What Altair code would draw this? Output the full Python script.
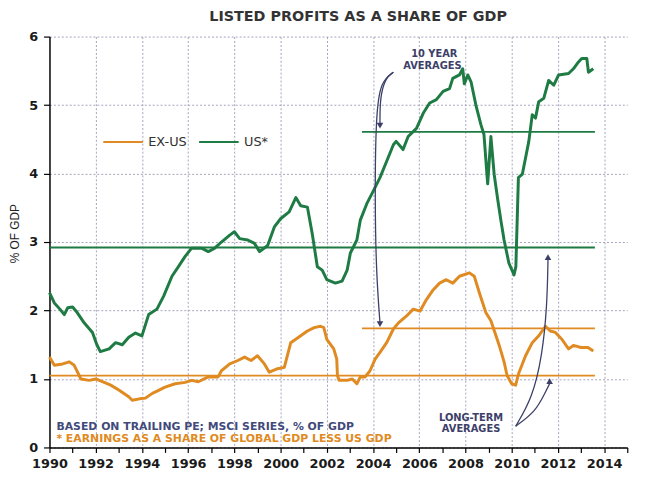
import altair as alt
import pandas as pd

# ---------------- data ----------------
us_year = [1990.0, 1990.21, 1990.45, 1990.64, 1990.79, 1991.0, 1991.2, 1991.5, 1991.86, 1992.05,
           1992.2, 1992.58, 1992.86, 1993.15, 1993.43, 1993.72, 1994.0, 1994.29, 1994.65, 1994.94,
           1995.3, 1995.58, 1995.87, 1996.15, 1996.58, 1996.87, 1997.15, 1997.44, 1997.8, 1998.0,
           1998.23, 1998.58, 1998.87, 1999.09, 1999.44, 1999.73, 2000.0, 2000.37, 2000.66, 2000.87,
           2001.16, 2001.37, 2001.59, 2001.8, 2002.0, 2002.37, 2002.66, 2002.88, 2003.02, 2003.3,
           2003.45, 2003.73, 2004.02, 2004.3, 2004.59, 2004.88, 2005.0, 2005.3, 2005.52, 2005.88,
           2006.17, 2006.45, 2006.74, 2007.03, 2007.31, 2007.45, 2007.74, 2007.88, 2007.95, 2008.1,
           2008.24, 2008.45, 2008.67, 2008.8, 2008.96, 2009.1, 2009.24, 2009.4, 2009.53, 2009.67,
           2009.88, 2010.1, 2010.18, 2010.29, 2010.46, 2010.74, 2010.89, 2011.03, 2011.17, 2011.39,
           2011.6, 2011.82, 2012.03, 2012.46, 2012.67, 2012.89, 2013.03, 2013.25, 2013.32, 2013.53]
us_val = [2.26, 2.11, 2.02, 1.94, 2.04, 2.05, 1.97, 1.82, 1.68, 1.50,
          1.40, 1.44, 1.53, 1.50, 1.61, 1.67, 1.63, 1.94, 2.02, 2.21,
          2.50, 2.64, 2.79, 2.91, 2.91, 2.86, 2.91, 3.00, 3.10, 3.15,
          3.05, 3.03, 2.98, 2.86, 2.95, 3.22, 3.34, 3.44, 3.65, 3.53,
          3.51, 3.12, 2.64, 2.59, 2.45, 2.40, 2.43, 2.59, 2.84, 3.03,
          3.32, 3.56, 3.75, 3.94, 4.18, 4.42, 4.47, 4.35, 4.54, 4.66,
          4.88, 5.03, 5.08, 5.20, 5.24, 5.39, 5.44, 5.53, 5.31, 5.44,
          5.34, 5.00, 4.71, 4.57, 3.85, 4.54, 3.99, 3.61, 3.32, 3.03,
          2.69, 2.52, 2.64, 3.94, 3.99, 4.47, 4.86, 4.81, 5.05, 5.10,
          5.36, 5.29, 5.44, 5.46, 5.53, 5.63, 5.68, 5.68, 5.48, 5.53]

exus_year = [1990.0, 1990.21, 1990.57, 1990.86, 1991.07, 1991.36, 1991.72, 1992.0, 1992.29, 1992.65,
             1993.0, 1993.43, 1993.58, 1993.9, 1994.15, 1994.45, 1994.7, 1995.0, 1995.44, 1995.87,
             1996.15, 1996.44, 1996.87, 1997.3, 1997.44, 1997.8, 1998.15, 1998.44, 1998.72, 1999.0,
             1999.3, 1999.51, 1999.87, 2000.16, 2000.44, 2000.87, 2001.16, 2001.45, 2001.73, 2001.87,
             2002.0, 2002.3, 2002.43, 2002.46, 2002.53, 2002.88, 2003.1, 2003.3, 2003.45, 2003.66,
             2003.87, 2004.09, 2004.3, 2004.59, 2004.88, 2005.1, 2005.45, 2005.74, 2006.03, 2006.31,
             2006.6, 2006.88, 2007.17, 2007.45, 2007.74, 2008.17, 2008.38, 2008.6, 2008.88, 2009.1,
             2009.32, 2009.46, 2009.67, 2009.8, 2010.0, 2010.17, 2010.3, 2010.6, 2010.89, 2011.17,
             2011.46, 2011.67, 2011.89, 2012.17, 2012.46, 2012.67, 2013.0, 2013.3, 2013.53]
exus_val = [1.32, 1.20, 1.22, 1.25, 1.20, 1.00, 0.98, 1.00, 0.96, 0.91,
            0.84, 0.74, 0.69, 0.71, 0.72, 0.79, 0.83, 0.88, 0.93, 0.95,
            0.98, 0.96, 1.03, 1.03, 1.12, 1.22, 1.27, 1.32, 1.27, 1.34,
            1.22, 1.10, 1.15, 1.17, 1.53, 1.63, 1.70, 1.75, 1.77, 1.75,
            1.58, 1.44, 1.29, 1.05, 0.98, 0.98, 1.00, 0.93, 1.03, 1.03,
            1.12, 1.29, 1.39, 1.53, 1.73, 1.82, 1.92, 2.02, 1.99, 2.16,
            2.30, 2.40, 2.45, 2.40, 2.50, 2.55, 2.50, 2.26, 1.97, 1.85,
            1.63, 1.49, 1.25, 1.05, 0.93, 0.91, 1.08, 1.34, 1.53, 1.63,
            1.77, 1.70, 1.68, 1.58, 1.44, 1.49, 1.46, 1.46, 1.41]

series_names = ["EX-US", "US*"]
long_term_avg = [1.05, 2.92]      # EX-US, US*
ten_year_avg = [1.74, 4.61]       # EX-US, US*
long_term_span = [1990.0, 2013.6]
ten_year_span = [2003.52, 2013.6]

tick_years = list(range(1990, 2016))
y_ticks = [0, 1, 2, 3, 4, 5, 6]

title_text = "LISTED PROFITS AS A SHARE OF GDP"
y_title = "% OF GDP"
note_lines = ["BASED ON TRAILING  PE; MSCI SERIES,  % OF GDP",
              "* EARNINGS  AS A SHARE OF  GLOBAL  GDP LESS US GDP"]

# annotation arrows (data coordinates)
arrow_id = ["a1"] * 5 + ["a2"] * 6 + ["b1"] * 5 + ["b2"] * 4
arrow_seq = [0, 1, 2, 3, 4] + [0, 1, 2, 3, 4, 5] + [0, 1, 2, 3, 4] + [0, 1, 2, 3]
arrow_x = [2004.88, 2004.55, 2004.33, 2004.30, 2004.30,
           2004.88, 2004.35, 2004.12, 2004.08, 2004.15, 2004.30,
           2010.17, 2010.89, 2011.32, 2011.53, 2011.57,
           2010.17, 2011.03, 2011.46, 2011.64]
arrow_y = [5.48, 5.40, 5.15, 4.90, 4.72,
           5.48, 5.35, 4.90, 3.50, 2.50, 1.82,
           0.31, 0.72, 1.34, 2.06, 2.74,
           0.31, 0.52, 0.81, 0.93]
head_x = [2004.30, 2004.30, 2011.57, 2011.64]
head_y = [4.70, 1.80, 2.78, 0.97]
head_shape = ["triangle-down", "triangle-down", "triangle-up", "triangle-up"]

ann_text = ["10 YEAR", "AVERAGES", "LONG-TERM", "AVERAGES"]
ann_x = [2006.65, 2006.57, 2008.24, 2008.24]
ann_y = [5.74, 5.575, 0.433, 0.274]
note_x = [1990.3, 1990.3]
note_y = [0.305, 0.13]

# ---------------- styles ----------------
GREEN = "#1d7b43"
ORANGE = "#e08a22"
NAVY = "#3c4068"
GRID = "#a4a4bc"
FONT = "DejaVu Sans"

# ---------------- tables ----------------
series_df = pd.concat([
    pd.DataFrame({"year": exus_year, "value": exus_val, "series": series_names[0]}),
    pd.DataFrame({"year": us_year, "value": us_val, "series": series_names[1]}),
])
avg_df = pd.DataFrame({
    "series": series_names * 2,
    "value": long_term_avg + ten_year_avg,
    "x0": [long_term_span[0]] * 2 + [ten_year_span[0]] * 2,
    "x1": [long_term_span[1]] * 2 + [ten_year_span[1]] * 2,
})
arrow_df = pd.DataFrame({"arrow": arrow_id, "seq": arrow_seq, "x": arrow_x, "y": arrow_y})
head_df = pd.DataFrame({"x": head_x, "y": head_y, "shape": head_shape})
ann_df = pd.DataFrame({"text": ann_text, "x": ann_x, "y": ann_y})
note_df = pd.DataFrame({"text": note_lines, "x": note_x, "y": note_y, "line": [0, 1]})

xscale = alt.Scale(domain=[1990, 2015], nice=False, zero=False)
yscale = alt.Scale(domain=[0, 6], nice=False)

xaxis = alt.Axis(values=tick_years, format="d", title=None,
                 labelExpr="datum.value % 2 == 0 ? datum.label : ''",
                 grid=True, gridColor=GRID, gridDash=[2, 2], gridWidth=1,
                 gridOpacity={"condition": {"test": "datum.value % 2 == 0 && datum.value > 1990",
                                            "value": 1}, "value": 0},
                 domainColor="#000", domainWidth=1.5,
                 tickColor="#000", tickSize=5, tickWidth=1.2,
                 labelFont=FONT, labelFontSize=13, labelFontWeight="bold",
                 labelColor="#1a1a1a", labelPadding=5, labelFlush=False)
yaxis = alt.Axis(values=y_ticks, format="d", title=y_title,
                 grid=True, gridColor=GRID, gridDash=[2, 2], gridWidth=1,
                 domainColor="#000", domainWidth=1.5,
                 tickColor="#000", tickSize=6, tickWidth=1.2,
                 labelFont=FONT, labelFontSize=13, labelFontWeight="bold",
                 labelColor="#1a1a1a", labelPadding=6,
                 titleFont="Liberation Sans", titleFontSize=12,
                 titleFontWeight="normal", titleColor="#222",
                 titleX=-35, titleY=199, titleAlign="center",
                 titleBaseline="middle", titleAngle=-90)


def X(f):
    return alt.X(f, type="quantitative", scale=xscale, axis=xaxis)


def Y(f):
    return alt.Y(f, type="quantitative", scale=yscale, axis=yaxis)


lines = alt.Chart(series_df).mark_line(strokeWidth=3, strokeJoin="round").encode(
    x=X("year"),
    y=Y("value"),
    color=alt.Color("series:N", scale=alt.Scale(domain=series_names, range=[ORANGE, GREEN]),
                    legend=alt.Legend(title=None, orient="none", direction="horizontal",
                                      legendX=53, legendY=85, padding=0,
                                      symbolType="stroke", symbolSize=1600,
                                      symbolStrokeWidth=2.2, labelOffset=4,
                                      columnPadding=8, labelFont=FONT,
                                      labelFontSize=13, labelColor="#333")),
    detail="series:N",
)

avg_layers = []
for name, col in zip(series_names, [ORANGE, GREEN]):
    avg_layers.append(
        alt.Chart(avg_df).transform_filter(alt.datum.series == name)
        .mark_rule(color=col, strokeWidth=1.8)
        .encode(x=X("x0"), x2="x1", y=Y("value"))
    )

arrows = alt.Chart(arrow_df).mark_line(interpolate="basis", color=NAVY, strokeWidth=1.3).encode(
    x=X("x"), y=Y("y"), detail="arrow:N", order="seq:Q")

heads = alt.Chart(head_df).mark_point(filled=True, size=45, color=NAVY, opacity=1).encode(
    x=X("x"), y=Y("y"), shape=alt.Shape("shape:N", scale=None))

ann = alt.Chart(ann_df).mark_text(font=FONT, fontSize=10, fontWeight="bold", color=NAVY,
                                  align="center", baseline="middle").encode(
    x=X("x"), y=Y("y"), text="text:N")

note1 = alt.Chart(note_df).transform_filter(alt.datum.line == 0).mark_text(
    font=FONT, fontSize=11, fontWeight="bold", color="#414a7a",
    align="left", baseline="middle").encode(x=X("x"), y=Y("y"), text="text:N")
note2 = alt.Chart(note_df).transform_filter(alt.datum.line == 1).mark_text(
    font=FONT, fontSize=11, fontWeight="bold", color=ORANGE,
    align="left", baseline="middle").encode(x=X("x"), y=Y("y"), text="text:N")

chart = alt.layer(lines, *avg_layers, arrows, heads, ann, note1, note2).properties(
    width=585, height=416,
    title=alt.TitleParams(title_text, font=FONT, fontSize=14.5, fontWeight="bold",
                          color="#333", anchor="middle", frame="group", dx=20,
                          offset=6),
    autosize=alt.AutoSizeParams(type="none"),
    padding={"left": 42, "top": 26, "right": 21, "bottom": 30},
).configure_view(strokeOpacity=0)

chart.save("out.html", embed_options={"renderer": "svg", "actions": False})
